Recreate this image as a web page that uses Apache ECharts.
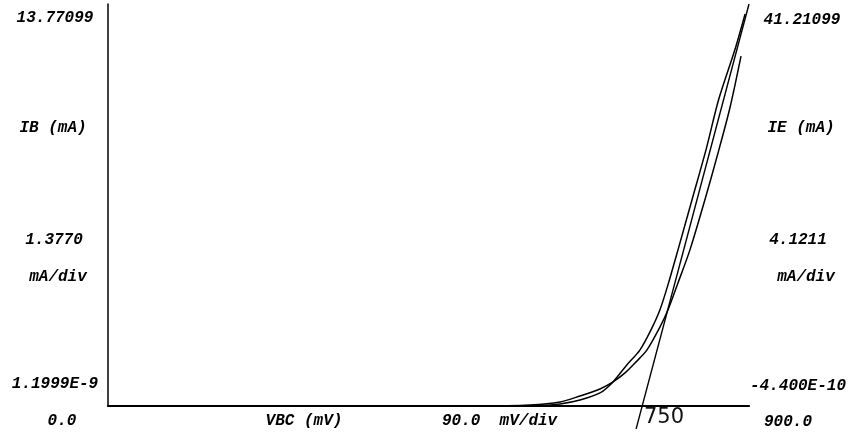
<!DOCTYPE html>
<html>
<head>
<meta charset="utf-8">
<script src="https://cdn.jsdelivr.net/npm/echarts@6/dist/echarts.min.js"></script>
<style>
html,body{margin:0;padding:0;background:#fff;}
#chart{width:852px;height:436px;}
</style>
</head>
<body>
<div id="chart"></div>
<script>
// VBC sweep (mV) and currents (mA)
const vbcIB = [0, 522, 592.5, 634.6, 662.7, 690.8, 709.1, 725.9, 741.4, 756.8, 775.1, 786.3, 800.4, 817.2, 838.2, 857.9, 873.4, 888.8];
const ib    = [0, 0, 0.034, 0.137, 0.343, 0.584, 0.824, 1.133, 1.511, 1.923, 2.713, 3.297, 4.224, 5.357, 7.074, 8.792, 10.234, 11.985];
const vbcIE = [0, 550, 606.6, 634.6, 662.7, 690.8, 709.1, 727.3, 747.0, 762.4, 775.0, 786.3, 800.4, 820.1, 839.8, 857.5, 880.5, 894.5];
const ie    = [0, 0, 0.05, 0.21, 0.62, 1.34, 2.47, 4.11, 5.76, 7.81, 9.87, 12.44, 16.03, 21.17, 26.31, 31.45, 36.59, 40.18];
// hand-drawn tangent (extrapolated to 750 mV)
const tangentV = [741.5, 900];
const tangentI = [-2.34, 41.21];

const xMin = 0, xMax = 900;
const ibMax = 13.77099, ieMax = 41.21099;

const leftLabels  = ["13.77099", "IB (mA)", "1.3770", "mA/div", "1.1999E-9"];
const rightLabels = ["41.21099", "IE (mA)", "4.1211", "mA/div", "-4.400E-10"];
const bottomLabels = ["0.0", "VBC (mV)", "90.0  mV/div", "900.0"];
const handNote = "750";

const zip = (a, b) => a.map((v, i) => [v, b[i]]);
const FONT = 'bold italic 16px "Liberation Mono", "DejaVu Sans Mono", monospace';

function txt(t, x, y, align) {
  return { type: 'text', x: x, y: y, z: 10,
    style: { text: t, font: FONT, fill: '#000', align: align || 'center', verticalAlign: 'middle' } };
}

const graphics = [
  txt(leftLabels[0], 55, 18),
  txt(leftLabels[1], 53, 128),
  txt(leftLabels[2], 54, 240),
  txt(leftLabels[3], 58, 277),
  txt(leftLabels[4], 55, 384),
  txt(rightLabels[0], 802, 20),
  txt(rightLabels[1], 801, 128),
  txt(rightLabels[2], 798, 240),
  txt(rightLabels[3], 806, 277),
  txt(rightLabels[4], 798, 386),
  txt(bottomLabels[0], 62, 421),
  txt(bottomLabels[1], 304, 421),
  txt(bottomLabels[2], 442, 421, 'left'),
  txt(bottomLabels[3], 788, 422),
  { type: 'text', x: 644, y: 418, z: 10,
    style: { text: handNote, font: 'normal 21px "DejaVu Sans", sans-serif', fill: '#111',
      align: 'left', verticalAlign: 'middle' } }
];

const chart = echarts.init(document.getElementById('chart'), null, { renderer: 'canvas' });
chart.setOption({
  animation: false,
  backgroundColor: '#fff',
  grid: { left: 108, right: 103, top: 4, bottom: 30, containLabel: false },
  xAxis: {
    type: 'value', min: xMin, max: xMax,
    axisLine: { show: true, onZero: false, lineStyle: { color: '#000', width: 2.2 } },
    axisTick: { show: false }, axisLabel: { show: false }, splitLine: { show: false }
  },
  yAxis: [
    { type: 'value', min: 0, max: ibMax, position: 'left',
      axisLine: { show: true, onZero: false, lineStyle: { color: '#111', width: 1.6 } },
      axisTick: { show: false }, axisLabel: { show: false }, splitLine: { show: false } },
    { type: 'value', min: 0, max: ieMax, position: 'right',
      axisLine: { show: false }, axisTick: { show: false }, axisLabel: { show: false }, splitLine: { show: false } }
  ],
  series: [
    { name: 'IB', type: 'line', yAxisIndex: 0, data: zip(vbcIB, ib), showSymbol: false,
      smooth: 0.3, lineStyle: { color: '#000', width: 1.5 } },
    { name: 'IE', type: 'line', yAxisIndex: 1, data: zip(vbcIE, ie), showSymbol: false,
      smooth: 0.3, lineStyle: { color: '#000', width: 1.5 } },
    { name: 'tangent', type: 'line', yAxisIndex: 1, data: zip(tangentV, tangentI), showSymbol: false,
      clip: false, lineStyle: { color: '#000', width: 1.4 } }
  ],
  graphic: graphics
});
</script>
</body>
</html>
